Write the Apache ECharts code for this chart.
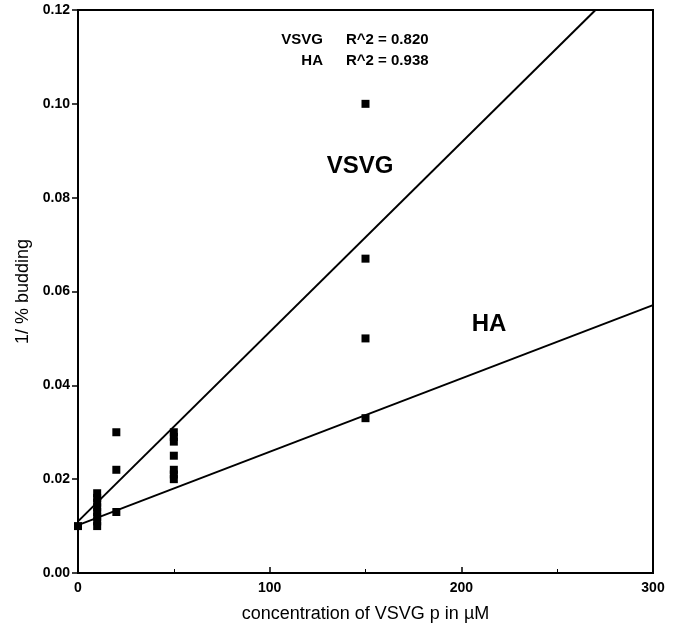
<!DOCTYPE html>
<html>
<head>
<meta charset="utf-8">
<script src="https://cdn.jsdelivr.net/npm/echarts@6/dist/echarts.min.js"></script>
<style>
    html, body {margin: 0; padding: 0; background: #fff;}
    #chart {width: 677px; height: 638px;}
</style>
</head>
<body>
<div id="chart"></div>
<script>
// data
const xTicks = [0, 100, 200, 300];
const yTicks = [0.00, 0.02, 0.04, 0.06, 0.08, 0.10, 0.12];

// measured points [concentration, 1/%budding]
const points0 = [[0, 0.010]];
const points10 = [[10, 0.017], [10, 0.016], [10, 0.015], [10, 0.014], [10, 0.013], [10, 0.012], [10, 0.011], [10, 0.010]];
const points20 = [[20, 0.030], [20, 0.022], [20, 0.013]];
const points50 = [[50, 0.030], [50, 0.029], [50, 0.028], [50, 0.025], [50, 0.022], [50, 0.021], [50, 0.020]];
const points150 = [[150, 0.100], [150, 0.067], [150, 0.050], [150, 0.033]];

// fitted lines (end points as read)
const vsvgFit = [[0, 0.0110], [270, 0.1200]];
const haFit = [[0, 0.0102], [300, 0.0571]];

const allPoints = [].concat(points0, points10, points20, points50, points150);

const chart = echarts.init(document.getElementById('chart'));

const font = 'Liberation Sans, Arial, sans-serif';

const option = {
    backgroundColor: '#fff',
    animation: false,
    grid: {left: 78, right: 24, top: 10, bottom: 65},
    xAxis: {
        type: 'value',
        min: 0,
        max: 300,
        interval: 100,
        name: 'concentration of VSVG p in \u00b5M',
        nameLocation: 'middle',
        nameGap: 32,
        nameTextStyle: {fontFamily: font, fontSize: 18, color: '#000'},
        axisLine: {show: true, lineStyle: {color: '#000', width: 2}},
        axisTick: {show: true, inside: true, length: 6, lineStyle: {color: '#000', width: 1.5}},
        minorTick: {show: true, splitNumber: 2, length: 4, lineStyle: {color: '#000', width: 1}},
        axisLabel: {
            color: '#000', fontFamily: font, fontWeight: 'bold', fontSize: 14, margin: 8,
            formatter: v => xTicks.indexOf(v) >= 0 ? String(v) : ''
        },
        splitLine: {show: false}
    },
    yAxis: {
        type: 'value',
        min: 0,
        max: 0.12,
        interval: 0.02,
        name: '1/ % budding',
        nameLocation: 'middle',
        nameGap: 38,
        nameTextStyle: {fontFamily: font, fontSize: 18, color: '#000'},
        axisLine: {show: true, lineStyle: {color: '#000', width: 2}},
        axisTick: {show: true, inside: false, length: 6, lineStyle: {color: '#000', width: 1.5}},
        axisLabel: {
            color: '#000', fontFamily: font, fontWeight: 'bold', fontSize: 14, margin: 8,
            formatter: v => {
                const t = yTicks.find(k => Math.abs(k - v) < 1e-9);
                return t === undefined ? '' : t.toFixed(2);
            }
        },
        splitLine: {show: false}
    },
    series: [
        {
            type: 'line',
            data: vsvgFit,
            symbol: 'none',
            lineStyle: {color: '#000', width: 2},
            z: 3
        },
        {
            type: 'line',
            data: haFit,
            symbol: 'none',
            lineStyle: {color: '#000', width: 2},
            z: 3
        },
        {
            type: 'scatter',
            data: allPoints,
            symbol: 'rect',
            symbolSize: 8,
            itemStyle: {color: '#000', opacity: 1},
            z: 4
        }
    ],
    graphic: [
        // frame top/right
        {
            type: 'rect',
            shape: {x: 78, y: 10, width: 575, height: 563},
            style: {fill: 'none', stroke: '#000', lineWidth: 2},
            silent: true,
            z: 10
        },
        {type: 'text', x: 323, y: 40, style: {text: 'VSVG', font: 'bold 15px ' + font, fill: '#000', align: 'right', verticalAlign: 'middle'}},
        {type: 'text', x: 346, y: 40, style: {text: 'R^2 = 0.820', font: 'bold 15px ' + font, fill: '#000', align: 'left', verticalAlign: 'middle'}},
        {type: 'text', x: 323, y: 61, style: {text: 'HA', font: 'bold 15px ' + font, fill: '#000', align: 'right', verticalAlign: 'middle'}},
        {type: 'text', x: 346, y: 61, style: {text: 'R^2 = 0.938', font: 'bold 15px ' + font, fill: '#000', align: 'left', verticalAlign: 'middle'}},
        {type: 'text', x: 360, y: 166, style: {text: 'VSVG', font: 'bold 24px ' + font, fill: '#000', align: 'center', verticalAlign: 'middle'}},
        {type: 'text', x: 489, y: 324, style: {text: 'HA', font: 'bold 24px ' + font, fill: '#000', align: 'center', verticalAlign: 'middle'}}
    ]
};

chart.setOption(option);
</script>
</body>
</html>
